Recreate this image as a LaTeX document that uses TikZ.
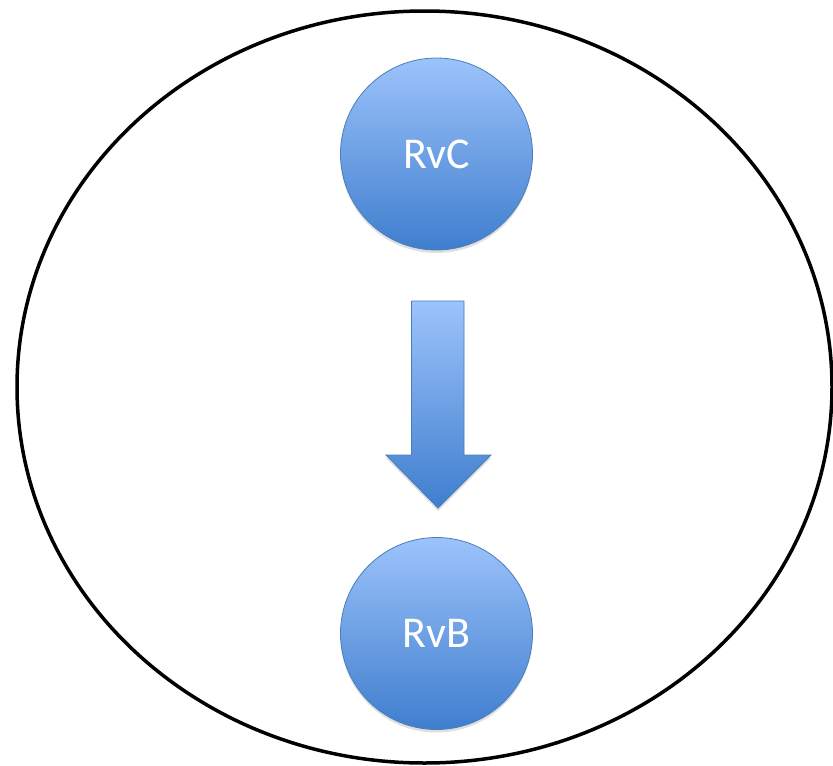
\documentclass[tikz,border=0pt]{standalone}
\usepackage{fontspec}
\setmainfont{Carlito}
\usetikzlibrary{shadows}
\definecolor{lightblue}{HTML}{9CC3FB}
\definecolor{darkblue}{HTML}{3F7ECE}
\definecolor{edgeblue}{HTML}{4A7EBB}
\tikzset{
  x=1pt, y=-1pt,
  ball/.style={circle, minimum size=192pt, inner sep=0pt, draw=edgeblue, line width=0.8pt,
    top color=lightblue, bottom color=darkblue, text=white,
    font=\fontsize{44}{50}\selectfont,
    drop shadow={shadow xshift=0pt, shadow yshift=-3pt, opacity=0.25}},
  outer/.style={draw=black, line width=3.5pt},
  flow/.style={draw=edgeblue, line width=0.8pt, top color=lightblue, bottom color=darkblue,
    drop shadow={shadow xshift=0pt, shadow yshift=-3pt, opacity=0.25}}
}
\begin{document}
\begin{tikzpicture}
\useasboundingbox (0,0) rectangle (833,766);
\draw[outer] (424.5,387) ellipse [x radius=407.5, y radius=376];
\node[ball] (rvc) at (436.5,154) {RvC};
\node[ball] (rvb) at (436.5,633.5) {RvB};
\path[flow] (411.5,301) -- (464,301) -- (464,455) -- (491,455) -- (438,508)
  -- (386,455) -- (411.5,455) -- cycle;
\end{tikzpicture}
\end{document}
